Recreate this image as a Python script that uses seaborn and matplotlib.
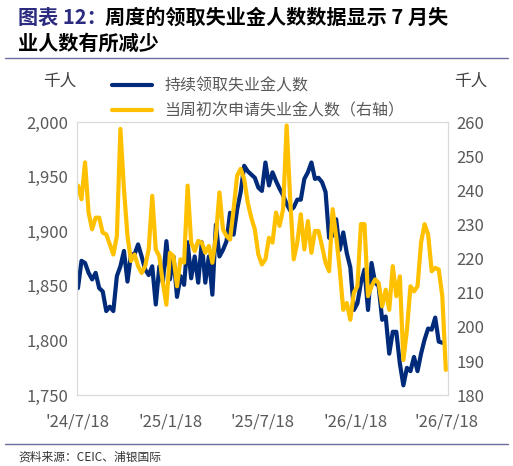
import pandas as pd
import matplotlib.pyplot as plt
import seaborn as sns

continuing = [1848, 1873, 1871, 1862, 1856, 1862, 1848, 1845, 1827, 1831, 1827, 1859, 1868, 1882, 1854,
              1879, 1879, 1888, 1877, 1865, 1860, 1868, 1833, 1868, 1853, 1891, 1856, 1877, 1840, 1859,
              1851, 1890, 1857, 1877, 1853, 1890, 1853, 1877, 1842, 1906, 1877, 1883, 1891, 1917, 1897,
              1920, 1936, 1960, 1955, 1952, 1949, 1940, 1937, 1963, 1942, 1954, 1946, 1939, 1933, 1925,
              1919, 1922, 1929, 1929, 1948, 1954, 1963, 1948, 1949, 1945, 1936, 1894, 1896, 1911, 1883,
              1899, 1880, 1867, 1828, 1834, 1853, 1865, 1828, 1871, 1853, 1850, 1819, 1822, 1788, 1808,
              1808, 1779, 1759, 1775, 1772, 1785, 1772, 1788, 1801, 1811, 1810, 1821, 1799, 1798]
initial = [241.4, 237.4, 248.2, 233.5, 228.6, 232.0, 232.0, 227.6, 227.1, 224.2, 221.2, 226.6, 258.0, 240.4,
           226.6, 219.3, 221.2, 217.8, 215.8, 217.8, 222.7, 238.4, 222.7, 220.7, 212.9, 206.5, 221.7, 220.7,
           211.9, 219.8, 218.8, 241.4, 224.7, 222.2, 225.2, 224.7, 221.7, 223.7, 218.8, 226.6, 239.4, 228.6,
           226.6, 225.6, 234.5, 244.3, 246.3, 243.3, 236.4, 232.0, 228.6, 221.2, 218.3, 219.8, 226.1, 224.7,
           233.5, 229.6, 234.5, 259.0, 237.4, 219.8, 224.7, 233.0, 222.7, 231.0, 221.7, 228.1, 228.1, 223.7,
           218.8, 216.3, 234.5, 226.6, 216.8, 205.0, 207.0, 202.1, 210.0, 211.9, 230.1, 230.1, 209.0, 211.9,
           213.9, 212.9, 206.0, 210.9, 205.0, 217.8, 209.0, 214.8, 190.3, 199.1, 211.9, 210.4, 211.9, 224.7,
           230.1, 227.1, 216.3, 217.3, 216.8, 209.0, 187.4]
tick_dates = ["2024-07-18", "2025-01-18", "2025-07-18", "2026-01-18", "2026-07-18"]
tick_labels = ["'24/7/18", "'25/1/18", "'25/7/18", "'26/1/18", "'26/7/18"]

weeks = pd.date_range("2024-07-18", periods=len(initial), freq="7D")
df_c = pd.DataFrame({"date": weeks[:len(continuing)], "v": continuing})
df_i = pd.DataFrame({"date": weeks, "v": initial})

sns.set_style("white")
plt.rcParams["font.family"] = ["Noto Sans CJK SC", "DejaVu Sans"]

fig = plt.figure(figsize=(5.13, 4.66), dpi=100)
ax = fig.add_axes([0.150, 0.152, 0.723, 0.586])
ax2 = ax.twinx()
sns.lineplot(data=df_c, x="date", y="v", ax=ax, color="#002A7A", lw=3, label="持续领取失业金人数", legend=False)
sns.lineplot(data=df_i, x="date", y="v", ax=ax2, color="#FFC000", lw=3, label="当周初次申请失业金人数（右轴）", legend=False)

ax.set_ylim(1750, 2000)
ax2.set_ylim(180, 260)
ax.set_yticks(range(1750, 2001, 50))
ax.set_yticklabels([f"{v:,}" for v in range(1750, 2001, 50)])
ax2.set_yticks(range(180, 261, 10))
ax.set_xlim(pd.Timestamp("2024-07-16"), pd.Timestamp("2026-07-20"))
ax.set_xticks(pd.to_datetime(tick_dates))
ax.set_xticklabels(tick_labels)
for a in (ax, ax2):
    a.set_xlabel("")
    a.set_ylabel("")
    a.tick_params(labelsize=12, colors="#595959", length=0, pad=6)
    for s in a.spines.values():
        s.set_color("#D9D9D9")
ax.tick_params(axis="x", pad=13)

h1, l1 = ax.get_legend_handles_labels()
h2, l2 = ax2.get_legend_handles_labels()
fig.legend(h1 + h2, l1 + l2, loc="upper left", bbox_to_anchor=(0.19, 0.865), frameon=False,
           fontsize=11.5, labelcolor="#595959", handlelength=2.5, labelspacing=0.5)
fig.text(0.085, 0.815, "千人", fontsize=12, color="#404040")
fig.text(0.885, 0.815, "千人", fontsize=12, color="#404040")

fig.text(0.035, 0.985, "图表 12：", fontsize=14.5, fontweight="bold", color="#2B2B80", va="top")
fig.text(0.205, 0.985, "周度的领取失业金人数数据显示 7 月失", fontsize=14.5, fontweight="bold", color="black", va="top")
fig.text(0.035, 0.93, "业人数有所减少", fontsize=14.5, fontweight="bold", color="black", va="top")
fig.add_artist(plt.Line2D([0.01, 0.99], [0.875, 0.875], color="#6B6B9E", lw=1))
fig.add_artist(plt.Line2D([0.01, 0.99], [0.047, 0.047], color="#6B6B9E", lw=1))
fig.text(0.035, 0.02, "资料来源：CEIC、浦银国际", fontsize=8.5, color="#333333", va="center")

fig.savefig("out.png", dpi=100)
